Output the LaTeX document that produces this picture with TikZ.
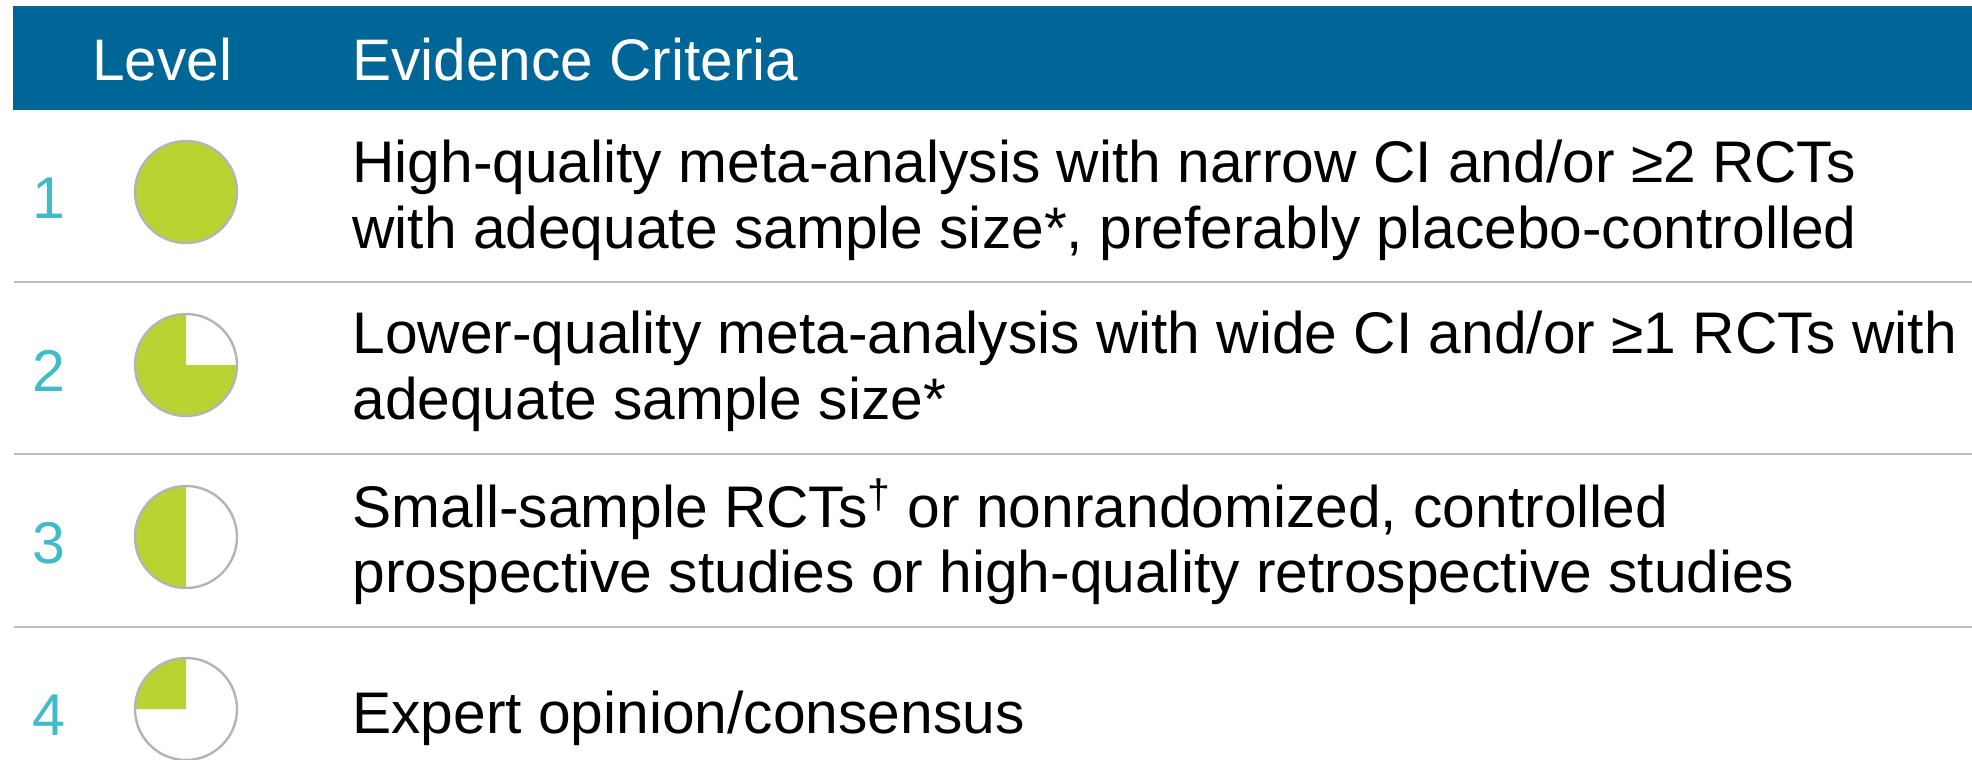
\documentclass[tikz,border=0pt]{standalone}
\usepackage{fontspec}
\setmainfont{Liberation Sans}
\definecolor{hdrblue}{RGB}{0,101,151}
\definecolor{lvgreen}{RGB}{184,212,51}
\definecolor{lvteal}{RGB}{64,188,200}
\definecolor{sepgray}{RGB}{190,190,190}
\definecolor{ringgray}{RGB}{180,180,180}
\begin{document}
\begin{tikzpicture}[x=0.5pt,y=-0.5pt,
  hdrtext/.style={anchor=base west,inner sep=0pt,text=white,font=\fontsize{29.3}{33}\selectfont},
  crit/.style={anchor=base west,inner sep=0pt,text=black,font=\fontsize{29.35}{33}\selectfont},
  lvnum/.style={anchor=base,inner sep=0pt,text=lvteal,font=\fontsize{29.5}{33}\selectfont},
  ring/.style={circle,draw=ringgray,line width=1.2pt,minimum size=51pt,inner sep=0pt},
  sepline/.style={draw=sepgray,line width=1.2pt},
  pie/.style={fill=lvgreen}]
\useasboundingbox (0,0) rectangle (1972,760);
% header
\fill[hdrblue] (13,6) rectangle (1972,110);
\node[hdrtext] (hlevel) at (92,80) {Level};
\node[hdrtext] (hcrit) at (352,80) {Evidence Criteria};
% separators
\draw[sepline] (14,282) -- (1972,282);
\draw[sepline] (14,454) -- (1972,454);
\draw[sepline] (14,627) -- (1972,627);
% circle centres
\coordinate (c1) at (186,192);
\coordinate (c2) at (186,365);
\coordinate (c3) at (186,537);
\coordinate (c4) at (186,709);
% fills
\fill[pie] (c1) circle[radius=51];
\fill[pie] (c2) -- ++(0:51) arc[start angle=0,end angle=270,radius=51] -- cycle;
\fill[pie] (c3) -- ++(-90:51) arc[start angle=-90,end angle=-270,radius=51] -- cycle;
\fill[pie] (c4) -- ++(-90:51) arc[start angle=-90,end angle=-180,radius=51] -- cycle;
% rings
\node[ring] (o1) at (c1) {};
\node[ring] (o2) at (c2) {};
\node[ring] (o3) at (c3) {};
\node[ring] (o4) at (c4) {};
% level numbers
\node[lvnum] (n1) at (49,218) {1};
\node[lvnum] (n2) at (49,391) {2};
\node[lvnum] (n3) at (49,563) {3};
\node[lvnum] (n4) at (49,735) {4};
% criteria
\node[crit] (t1a) at (352,182) {High-quality meta-analysis with narrow CI and/or ≥2 RCTs};
\node[crit] (t1b) at (352,248) {with adequate sample size*, preferably placebo-controlled};
\node[crit] (t2a) at (352,353) {Lower-quality meta-analysis with wide CI and/or ≥1 RCTs with};
\node[crit] (t2b) at (352,419) {adequate sample size*};
\node[crit] (t3a) at (352,527) {Small-sample RCTs\textsuperscript{†} or nonrandomized, controlled};
\node[crit] (t3b) at (352,592) {prospective studies or high-quality retrospective studies};
\node[crit] (t4) at (352,733) {Expert opinion/consensus};
\end{tikzpicture}
\end{document}
